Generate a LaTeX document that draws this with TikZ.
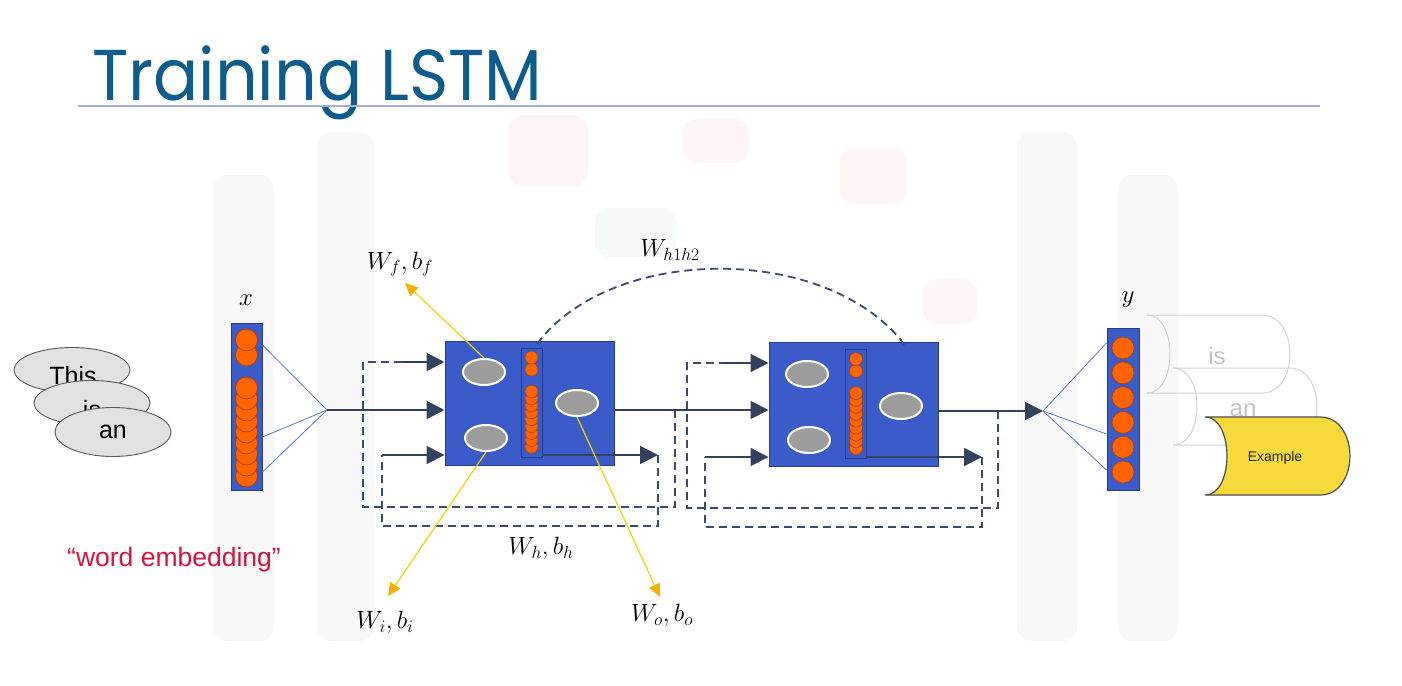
\documentclass[tikz,border=0pt]{standalone}
\usepackage{fix-cm}
\usepackage{fontspec}
\setmainfont{Liberation Sans}
\newfontfamily\titlefont{Poppins}
\usetikzlibrary{arrows.meta,shapes.geometric,calc}

\definecolor{cellblue}{HTML}{3B5BC9}
\definecolor{celledge}{HTML}{213C8C}
\definecolor{navy}{HTML}{33405E}
\definecolor{dashnavy}{HTML}{394978}
\definecolor{dotorange}{HTML}{FF6400}
\definecolor{dotedge}{HTML}{A83C00}
\definecolor{gatefill}{HTML}{9C9C9C}
\definecolor{fanblue}{HTML}{5C78C8}
\definecolor{gold}{HTML}{F0D400}
\definecolor{goldtip}{HTML}{F5B000}
\definecolor{titleblue}{HTML}{0D5C8C}
\definecolor{rulecol}{HTML}{A3AFD3}
\definecolor{wordred}{HTML}{D4143C}
\definecolor{scrollyellow}{HTML}{F6D93A}
\definecolor{ghostline}{HTML}{D2D2D2}
\definecolor{ghosttext}{HTML}{C4C4C4}
\definecolor{wordfill}{HTML}{E2E2E2}
\definecolor{markgray}{HTML}{F8F8F9}
\definecolor{markpink}{HTML}{FEF6F6}
\definecolor{markgreen}{HTML}{F6FAF6}

% stored-data scroll: left edge concave, right edge convex
\newcommand{\scrollpath}[6]{% xL, top, bottom, depth, xR, bulge
  (#1,#2) -- (#5,#2)
  .. controls ({#5+1.33*#6},#2) and ({#5+1.33*#6},#3) .. (#5,#3)
  -- (#1,#3)
  .. controls ({#1+1.33*#4},#3) and ({#1+1.33*#4},#2) .. (#1,#2) -- cycle}

\begin{document}
\begin{tikzpicture}[x=1pt,y=-1pt,
  cell/.style={draw=celledge, line width=1pt, fill=cellblue,
    minimum width=169pt, minimum height=124pt, inner sep=0pt},
  col/.style={draw=celledge, line width=0.8pt, fill=cellblue,
    minimum width=21pt, minimum height=109pt, inner sep=0pt},
  vec/.style={draw=celledge, line width=1pt, fill=cellblue, inner sep=0pt},
  gate/.style={ellipse, draw=white, line width=2pt, fill=gatefill,
    minimum width=42pt, minimum height=26pt, inner sep=0pt},
  bigdot/.style={circle, draw=dotedge, line width=0.6pt, fill=dotorange,
    minimum size=22pt, inner sep=0pt},
  smalldot/.style={circle, draw=dotedge, line width=0.5pt, fill=dotorange,
    minimum size=13pt, inner sep=0pt},
  arr/.style={draw=navy, line width=1.8pt, -{Triangle[length=18pt,width=18pt]}},
  loopline/.style={draw=dashnavy, line width=1.8pt, dash pattern=on 8pt off 5pt},
  fan/.style={draw=fanblue, line width=0.8pt},
  yarr/.style={draw=gold, line width=1.2pt, -{Triangle[length=13pt,width=12pt,color=goldtip]}},
  wordell/.style={ellipse, draw=black!65, line width=0.9pt, fill=wordfill,
    minimum width=116pt, minimum height=45pt, inner sep=0pt},
  wordtxt/.style={font=\fontsize{25}{28}\selectfont, inner sep=0pt},
  mathlbl/.style={font=\fontsize{25}{28}\selectfont, inner sep=0pt},
  ghosttxt/.style={text=ghosttext, font=\fontsize{24}{28}\selectfont, inner sep=0pt},
  emblem/.style={rounded corners=14pt}
]
\useasboundingbox (0,0) rectangle (1402,685);
\fill[white] (0,0) rectangle (1402,685);

% ---- faint backdrop emblem
\fill[markgray, emblem] (213,175) rectangle (274,641);
\fill[markgray, emblem] (317,132) rectangle (374,641);
\fill[markgray, emblem] (1017,132) rectangle (1077,641);
\fill[markgray, emblem] (1118,175) rectangle (1178,641);
\fill[markpink, emblem] (508,115) rectangle (588,186);
\fill[markpink, emblem] (682,119) rectangle (749,163);
\fill[markpink, emblem] (840,148) rectangle (907,204);
\fill[markpink, emblem] (923,279) rectangle (977,324);
\fill[markgreen, emblem] (595,208) rectangle (676,257);

% ---- title and rule
\node[anchor=base west, inner sep=0pt, text=titleblue] (title) at (92,100)
  {\titlefont\fontsize{72}{80}\selectfont\scalebox{0.93}[1]{Training LSTM}};
\draw[rulecol, line width=2pt] (78,106) -- (1320,106);

% ---- input words (each ellipse partly covers the previous one)
\node[wordell] (wThis) at (72,370) {};
\node[wordtxt] (tThis) at (73,376) {This};
\node[wordell] (wIs) at (92,403) {};
\node[wordtxt] (tIs) at (92,410) {is};
\node[wordell, minimum height=49pt] (wAn) at (113,432) {};
\node[wordtxt] (tAn) at (113,432) {an};

\node[text=wordred, font=\fontsize{26.5}{30}\selectfont] (embed) at (174,560)
  {“word embedding”};

% ---- input vector x
\node[vec, minimum width=31pt, minimum height=167pt] (xvec) at (246.5,406.5) {};
\foreach \i in {8,7,...,0} {\node[bigdot] (xg\i) at (246.5,{388+11*\i}) {};}
\node[bigdot] (xt2) at (246.5,355) {};
\node[bigdot] (xt1) at (246.5,340) {};
\node[mathlbl] (xlbl) at (246,300) {$x$};

\coordinate (f1) at (327,410);
\draw[fan] ([yshift=61.5pt]xvec.east) -- (f1);
\draw[fan] ([yshift=-30.5pt]xvec.east) -- (f1);
\draw[fan] ([yshift=-65.5pt]xvec.east) -- (f1);

% ---- LSTM cells
\node[cell] (cell1) at (529.5,403) {};
\node[cell] (cell2) at (853.5,404.5) {};

\node[col] (col1) at (531.5,402.5) {};
\node[col] (col2) at (856,404) {};
\foreach \c in {1,2} {
  \foreach \i in {8,7,...,0} {\node[smalldot] (cd\c-\i) at ($(col\c.north)+(0,{44+6.9*\i})$) {};}
  \node[smalldot] (cs\c-2) at ($(col\c.north)+(0,22)$) {};
  \node[smalldot] (cs\c-1) at ($(col\c.north)+(0,10)$) {};
}

\node[gate] (g1a) at (484,372) {};
\node[gate] (g1b) at (486,438) {};
\node[gate] (g1c) at (577,403) {};
\node[gate] (g2a) at (807,374) {};
\node[gate] (g2b) at (809,440) {};
\node[gate] (g2c) at (901,406) {};

% ---- recurrent loops, cell 1
\coordinate (t1) at (402,362);
\coordinate (b1) at (382,455);
\coordinate (h1) at (675,410);
\coordinate (lo1) at (363,507);
\coordinate (c1e) at (658,455);
\coordinate (li1) at (382,526);
\draw[loopline] (h1) |- (lo1) |- (t1);
\draw[loopline] (c1e) |- (li1) -- (b1);
\draw[arr] (t1) -- (t1 -| cell1.west);
\draw[arr] (f1) -- (f1 -| cell1.west);
\draw[arr] (b1) -- (b1 -| cell1.west);
\draw[arr] (col1.east |- c1e) -- (c1e);

% ---- cell 1 to cell 2
\draw[arr] (cell1.east |- f1) -- (cell2.west |- f1);

% ---- recurrent loops, cell 2
\coordinate (t2) at (724,363);
\coordinate (b2) at (705,457);
\coordinate (h2) at (998,411);
\coordinate (lo2) at (687,508);
\coordinate (c2e) at (982,457);
\coordinate (li2) at (705,527);
\draw[loopline] (h2) |- (lo2) |- (t2);
\draw[loopline] (c2e) |- (li2) -- (b2);
\draw[arr] (t2) -- (t2 -| cell2.west);
\draw[arr] (b2) -- (b2 -| cell2.west);
\draw[arr] (col2.east |- c2e) -- (c2e);

% ---- hidden-to-hidden link
\coordinate (arcS) at (537,344);
\coordinate (arcE) at (907,348);
\draw[loopline] (arcS) .. controls (612,243) and (832,243) .. (arcE);
\node[mathlbl] (whh) at (670,250) {$W_{h1h2}$};

% ---- output vector y
\coordinate (f2) at (1043,411);
\draw[arr] (cell2.east |- h2) -- (f2);
\node[vec, minimum width=32pt, minimum height=162pt] (yvec) at (1123,409) {};
\foreach \i in {0,...,5} {\node[bigdot] (yd\i) at (1123,{348+24.8*\i}) {};}
\node[mathlbl] (ylbl) at (1128,300) {$y$};
\draw[fan] (f2) -- ([yshift=66pt]yvec.west);
\draw[fan] (f2) -- ([yshift=-25pt]yvec.west);
\draw[fan] (f2) -- ([yshift=-61pt]yvec.west);

% ---- parameter labels
\coordinate (wfTip) at (405,283);
\coordinate (wiTip) at (388,596);
\coordinate (woTip) at (660,597);
\draw[yarr] (g1a.north) -- (wfTip);
\draw[yarr] (g1b.south) -- (wiTip);
\draw[yarr] (g1c.south) -- (woTip);
\node[mathlbl] (wf) at (400,264) {$W_f, b_f$};
\node[mathlbl] (wi) at (385,622) {$W_i, b_i$};
\node[mathlbl] (wo) at (662,615) {$W_o, b_o$};
\node[mathlbl] (wh) at (541,548) {$W_h, b_h$};

% ---- output words
\draw[ghostline, line width=1pt] \scrollpath{1147}{315}{393}{23}{1262}{28};
\node[ghosttxt] (oIs) at (1217,356) {is};
\draw[ghostline, line width=1pt] \scrollpath{1173}{368}{445}{24}{1289}{28};
\node[ghosttxt] (oAn) at (1243,410) {an};
\filldraw[fill=scrollyellow, draw=black!70, line width=1.2pt]
  \scrollpath{1205}{417}{495}{22}{1320}{30};
\node[font=\fontsize{14}{16}\selectfont, text=black!85] (oEx) at (1275,458) {Example};

\end{tikzpicture}
\end{document}
